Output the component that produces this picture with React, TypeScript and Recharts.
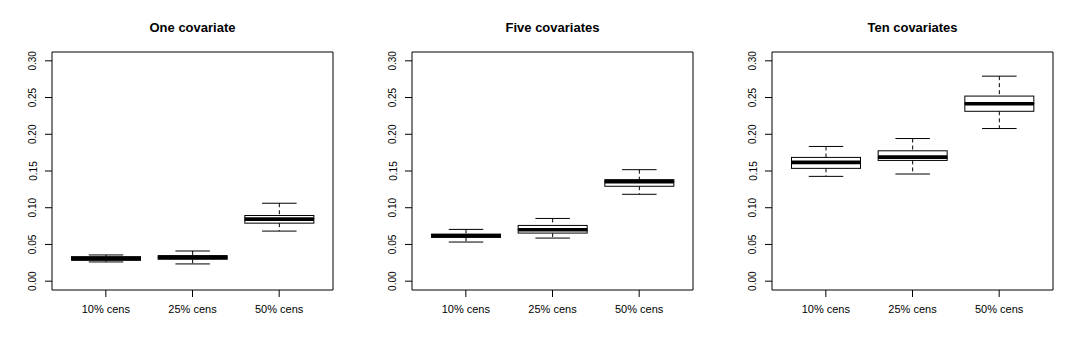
import React from "react";
import { ComposedChart, Bar, XAxis, YAxis } from "recharts";

const categories = ["10% cens", "25% cens", "50% cens"];
const panelTitles = ["One covariate", "Five covariates", "Ten covariates"];
const yTicks = [0, 0.05, 0.1, 0.15, 0.2, 0.25, 0.3];

// one covariate
const oneMin = [0.0262, 0.0235, 0.0682];
const oneQ1 = [0.0285, 0.0298, 0.079];
const oneMed = [0.0307, 0.0325, 0.0845];
const oneQ3 = [0.0334, 0.0348, 0.0894];
const oneMax = [0.0357, 0.0411, 0.1061];

// five covariates
const fiveMin = [0.0533, 0.0587, 0.1183];
const fiveQ1 = [0.0596, 0.0655, 0.1292];
const fiveMed = [0.0619, 0.07, 0.1355];
const fiveQ3 = [0.0641, 0.0759, 0.1382];
const fiveMax = [0.0705, 0.0854, 0.1518];

// ten covariates
const tenMin = [0.1427, 0.1459, 0.2078];
const tenQ1 = [0.1536, 0.1644, 0.2313];
const tenMed = [0.1617, 0.1689, 0.2416];
const tenQ3 = [0.1685, 0.1775, 0.252];
const tenMax = [0.1834, 0.1942, 0.2791];

const FONT = "'Liberation Sans', Arial, sans-serif";

function buildRows(mins: number[], q1: number[], med: number[], q3: number[], maxs: number[]) {
  return categories.map((cat, i) => ({
    cat,
    base: mins[i],
    lowW: q1[i] - mins[i],
    lowBox: med[i] - q1[i],
    upBox: q3[i] - med[i],
    upW: maxs[i] - q3[i],
  }));
}

const panels = [
  buildRows(oneMin, oneQ1, oneMed, oneQ3, oneMax),
  buildRows(fiveMin, fiveQ1, fiveMed, fiveQ3, fiveMax),
  buildRows(tenMin, tenQ1, tenMed, tenQ3, tenMax),
];

function WhiskerLow(p: any) {
  const cx = p.x + p.width / 2;
  const bottom = p.y + p.height;
  return (
    <g>
      <line x1={cx} x2={cx} y1={p.y} y2={bottom} stroke="#000" strokeDasharray="4 3" />
      <line x1={cx - p.width / 4} x2={cx + p.width / 4} y1={bottom} y2={bottom} stroke="#000" />
    </g>
  );
}

function WhiskerHigh(p: any) {
  const cx = p.x + p.width / 2;
  return (
    <g>
      <line x1={cx} x2={cx} y1={p.y} y2={p.y + p.height} stroke="#000" strokeDasharray="4 3" />
      <line x1={cx - p.width / 4} x2={cx + p.width / 4} y1={p.y} y2={p.y} stroke="#000" />
    </g>
  );
}

function BoxLow(p: any) {
  return <rect x={p.x} y={p.y} width={p.width} height={p.height} fill="#fff" stroke="#000" />;
}

function BoxHigh(p: any) {
  const bottom = p.y + p.height;
  return (
    <g>
      <rect x={p.x} y={p.y} width={p.width} height={p.height} fill="#fff" stroke="#000" />
      <line x1={p.x} x2={p.x + p.width} y1={bottom} y2={bottom} stroke="#000" strokeWidth={3.6} />
    </g>
  );
}

function XTick(p: any) {
  return (
    <text x={p.x} y={p.y} dy={14} textAnchor="middle" fontSize={11} fontFamily={FONT} fill="#000">
      {p.payload.value}
    </text>
  );
}

function YTick(p: any) {
  const tx = p.x - 10;
  return (
    <text
      x={tx}
      y={p.y}
      transform={`rotate(-90, ${tx}, ${p.y})`}
      textAnchor="middle"
      dominantBaseline="central"
      fontSize={10}
      fontFamily={FONT}
      fill="#000"
    >
      {p.payload.value.toFixed(2)}
    </text>
  );
}

function Panel({ rows, title }: { rows: any[]; title: string }) {
  return (
    <div style={{ position: "relative", width: 360, height: 355 }}>
      <div
        style={{
          position: "absolute",
          left: 52,
          width: 281,
          top: 20,
          textAlign: "center",
          fontFamily: FONT,
          fontWeight: "bold",
          fontSize: 13,
          color: "#000",
        }}
      >
        {title}
      </div>
      <ComposedChart width={360} height={355} data={rows} margin={{ top: 51, right: 26, bottom: 35, left: 0 }}>
        <XAxis
          dataKey="cat"
          padding={{ left: 10.5, right: 10.5 }}
          height={30}
          tickSize={7}
          tickLine={{ stroke: "#000" }}
          axisLine={{ stroke: "#000" }}
          tick={<XTick />}
          interval={0}
        />
        <XAxis xAxisId="top" orientation="top" dataKey="cat" height={1} tick={false} tickLine={false} axisLine={{ stroke: "#000" }} />
        <YAxis
          type="number"
          domain={[-0.012, 0.312]}
          allowDataOverflow
          ticks={yTicks}
          interval={0}
          width={52}
          tickSize={7}
          tickLine={{ stroke: "#000" }}
          axisLine={{ stroke: "#000" }}
          tick={<YTick />}
        />
        <YAxis
          yAxisId="right"
          orientation="right"
          type="number"
          domain={[-0.012, 0.312]}
          width={1}
          tick={false}
          tickLine={false}
          axisLine={{ stroke: "#000" }}
        />
        <Bar dataKey="base" stackId="s" barSize={69} fill="none" isAnimationActive={false} />
        <Bar dataKey="lowW" stackId="s" barSize={69} shape={(p: any) => <WhiskerLow {...p} />} isAnimationActive={false} />
        <Bar dataKey="lowBox" stackId="s" barSize={69} shape={(p: any) => <BoxLow {...p} />} isAnimationActive={false} />
        <Bar dataKey="upBox" stackId="s" barSize={69} shape={(p: any) => <BoxHigh {...p} />} isAnimationActive={false} />
        <Bar dataKey="upW" stackId="s" barSize={69} shape={(p: any) => <WhiskerHigh {...p} />} isAnimationActive={false} />
      </ComposedChart>
    </div>
  );
}

export default function App() {
  return (
    <div style={{ position: "absolute", left: 0, top: 0, width: 1080, height: 355, background: "#fff", display: "flex" }}>
      {panels.map((rows, i) => (
        <Panel key={panelTitles[i]} rows={rows} title={panelTitles[i]} />
      ))}
    </div>
  );
}
